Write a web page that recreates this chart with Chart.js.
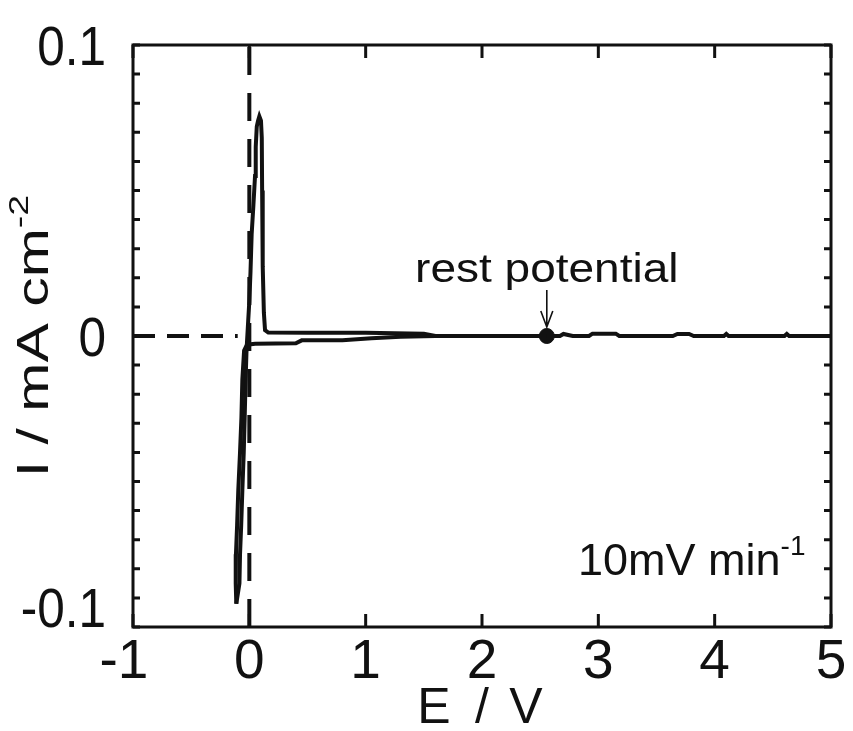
<!DOCTYPE html>
<html>
<head>
<meta charset="utf-8">
<script src="https://cdn.jsdelivr.net/npm/chart.js@4.4.0/dist/chart.umd.min.js"></script>
<style>
  html, body { margin: 0; padding: 0; background: #fff; }
  #wrap { width: 853px; height: 731px; }
</style>
</head>
<body>
<div id="wrap"><canvas id="c" width="853" height="731"></canvas></div>
<script>
// axis ranges and ticks
const xRange = [-1, 5];
const yRange = [-0.1, 0.1];
const xTicks = [-1, 0, 1, 2, 3, 4, 5];
const yLabelTicks = [0.1, 0, -0.1];
const yMinorStep = 0.01;

// cathodic sweep: rest potential -> negative end
const cathE = [2.557, 1.6, 1.3, 1.05, 0.8, 0.45, 0.4, 0.05, -0.02, -0.045, -0.06, -0.068, -0.08, -0.095, -0.105, -0.115, -0.117, -0.112];
const cathI = [0, 0, -0.0003, -0.0008, -0.0015, -0.0015, -0.0025, -0.0027, -0.003, -0.005, -0.015, -0.028, -0.04, -0.053, -0.065, -0.075, -0.085, -0.092];

// anodic sweep: negative end -> 5 V
const anoE = [-0.112, -0.085, -0.08, -0.07, -0.06, -0.048, -0.04, -0.032, -0.025, -0.02, -0.01, 0, 0.01, 0.02, 0.035, 0.049, 0.055, 0.064, 0.075, 0.086, 0.1, 0.107, 0.11, 0.115, 0.125, 0.135, 0.163, 0.5, 1.0, 1.5, 1.6, 2.557, 2.67, 2.7, 2.78, 2.92, 2.95, 3.15, 3.18, 3.64, 3.68, 3.78, 3.82, 4.08, 4.1, 4.12, 4.6, 4.62, 4.64, 5];
const anoI = [-0.092, -0.085, -0.075, -0.065, -0.053, -0.04, -0.028, -0.015, -0.006, -0.002, 0.005, 0.012, 0.022, 0.035, 0.045, 0.055, 0.065, 0.072, 0.074, 0.0755, 0.074, 0.068, 0.05, 0.024, 0.008, 0.002, 0.0012, 0.0011, 0.0011, 0.0008, 0, 0, 0, 0.0007, 0, 0, 0.0008, 0.0008, 0, 0, 0.0007, 0.0007, 0, 0, 0.0007, 0, 0, 0.0007, 0, 0];

// reference lines (dashed)
const zeroLineE = [-1, -0.1];
const zeroLineI = [0, 0];
const eZeroE = [0, 0];
const eZeroI = [-0.1, 0.1];

// rest potential marker
const restE = [2.557];
const restI = [0];

const pts = (xs, ys) => xs.map((x, i) => ({ x, y: ys[i] }));
const FONT = '"Liberation Sans", Arial, Helvetica, sans-serif';

function drawRich(ctx, parts, x, y, angle, sx, align) {
  ctx.save();
  ctx.translate(x, y);
  ctx.rotate(angle);
  ctx.scale(sx, 1);
  let total = 0;
  parts.forEach(p => { ctx.font = p.size + 'px ' + FONT; total += ctx.measureText(p.t).width; });
  let cx = align === 'center' ? -total / 2 : (align === 'right' ? -total : 0);
  ctx.textAlign = 'left';
  ctx.textBaseline = 'alphabetic';
  parts.forEach(p => {
    ctx.font = p.size + 'px ' + FONT;
    ctx.fillText(p.t, cx, -(p.dy || 0));
    cx += ctx.measureText(p.t).width;
  });
  ctx.restore();
}

const framePlugin = {
  id: 'frame',
  afterDraw(chart) {
    const { ctx, chartArea: a, scales: { x, y } } = chart;
    ctx.save();
    ctx.strokeStyle = '#111';
    ctx.fillStyle = '#111';
    ctx.lineWidth = 3;
    ctx.strokeRect(a.left, a.top, a.right - a.left, a.bottom - a.top);

    // y minor ticks both sides
    ctx.beginPath();
    for (let i = -10; i <= 10; i++) {
      const py = y.getPixelForValue(i * yMinorStep);
      ctx.moveTo(a.left, py); ctx.lineTo(a.left + 7, py);
      ctx.moveTo(a.right, py); ctx.lineTo(a.right - 7, py);
    }
    // x ticks top and bottom
    xTicks.forEach(v => {
      const px = x.getPixelForValue(v);
      ctx.moveTo(px, a.bottom); ctx.lineTo(px, a.bottom - 13);
      ctx.moveTo(px, a.top); ctx.lineTo(px, a.top + 13);
    });
    ctx.stroke();

    // tick labels
    ctx.font = '55px ' + FONT;
    ctx.textBaseline = 'alphabetic';
    ctx.textAlign = 'right';
    xTicks.forEach(v => {
      const px = x.getPixelForValue(v);
      const w = ctx.measureText(String(Math.abs(v))).width;
      ctx.fillText(String(v), px + w / 2, 678);
    });
    yLabelTicks.forEach(v => {
      const py = y.getPixelForValue(v);
      const base = v === yRange[0] ? py : py + 20;
      drawRich(ctx, [{ t: String(v), size: 55 }], 106, base, 0, 0.9, 'right');
    });

    // axis titles
    const ex = x.getPixelForValue(2);
    ctx.font = '50px ' + FONT;
    ctx.textAlign = 'center';
    ctx.fillText('E', ex - 48, 723);
    ctx.fillText('/', ex, 723);
    ctx.fillText('V', ex + 44, 723);

    drawRich(ctx, [{ t: 'I / mA cm', size: 44 }, { t: '-2', size: 28, dy: 20 }],
      48, (a.top + a.bottom) / 2, -Math.PI / 2, 1.34, 'center');

    // annotations
    const rx = x.getPixelForValue(restE[0]);
    const ry = y.getPixelForValue(restI[0]);
    drawRich(ctx, [{ t: 'rest potential', size: 40 }], rx, 282, 0, 1.15, 'center');
    ctx.lineWidth = 1.6;
    ctx.beginPath();
    ctx.moveTo(rx, 290); ctx.lineTo(rx, ry - 9);
    ctx.moveTo(rx - 6, ry - 25); ctx.lineTo(rx, ry - 9); ctx.lineTo(rx + 6, ry - 25);
    ctx.stroke();

    drawRich(ctx, [{ t: '10mV min', size: 45 }, { t: '-1', size: 28, dy: 20 }], 578, 575, 0, 1, 'left');
    ctx.restore();
  }
};

const line = (data, width, dash) => ({
  data, showLine: true, borderColor: '#111', borderWidth: width,
  borderDash: dash || [], pointRadius: 0, tension: 0, fill: false
});

new Chart(document.getElementById('c'), {
  type: 'scatter',
  data: {
    datasets: [
      line(pts(zeroLineE, zeroLineI), 4, [22, 12]),
      line(pts(eZeroE, eZeroI), 4, [28, 18]),
      line(pts(cathE, cathI), 4),
      line(pts(anoE, anoI), 4),
      { data: pts(restE, restI), pointRadius: 7.5, pointBackgroundColor: '#111', pointBorderColor: '#111', showLine: false }
    ]
  },
  options: {
    responsive: false,
    animation: false,
    devicePixelRatio: 1,
    layout: { padding: { left: 133, top: 45, right: 22, bottom: 104 } },
    plugins: { legend: { display: false }, tooltip: { enabled: false } },
    scales: {
      x: { type: 'linear', min: xRange[0], max: xRange[1], display: false },
      y: { type: 'linear', min: yRange[0], max: yRange[1], display: false }
    }
  },
  plugins: [framePlugin]
});
</script>
</body>
</html>
